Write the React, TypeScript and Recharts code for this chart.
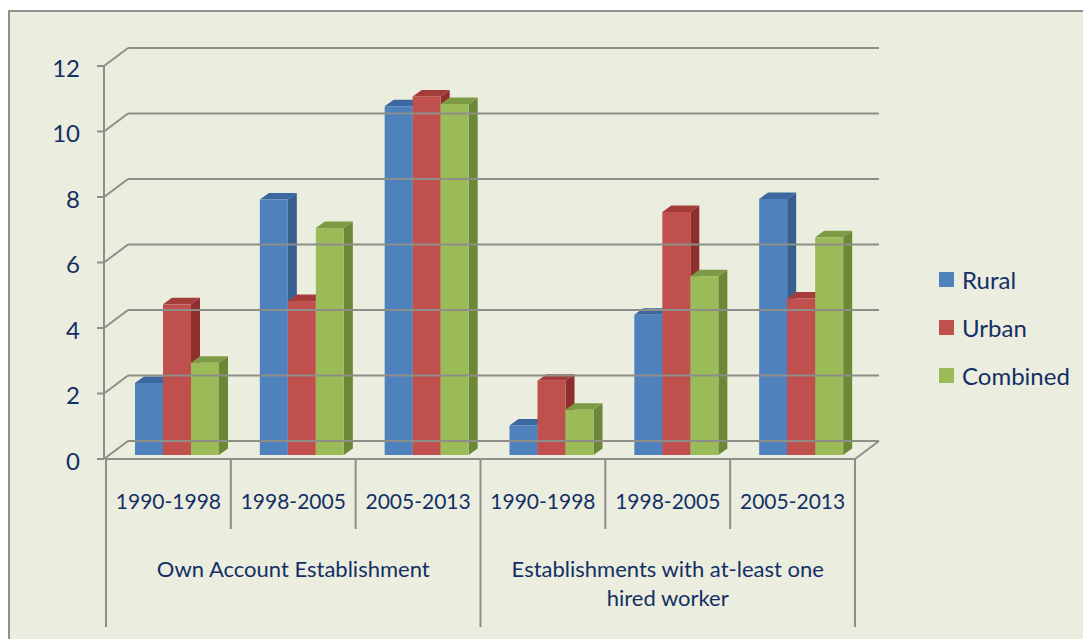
import React from 'react';
import { BarChart, Bar, XAxis, YAxis } from 'recharts';

const categories = ['1990-1998', '1998-2005', '2005-2013', '1990-1998', '1998-2005', '2005-2013'];
const groups = ['Own Account Establishment', 'Establishments with at-least one|hired worker'];
const rural = [2.2, 7.8, 10.65, 0.9, 4.28, 7.82];
const urban = [4.6, 4.7, 10.95, 2.27, 7.42, 4.78];
const combined = [2.82, 6.93, 10.72, 1.38, 5.46, 6.65];
const yTicks = [0, 2, 4, 6, 8, 10, 12];

const series = [
  { key: 'rural', name: 'Rural', front: '#4F81BD', side: '#37608F', top: '#3B68A0' },
  { key: 'urban', name: 'Urban', front: '#C0504D', side: '#8E2F2D', top: '#A43C39' },
  { key: 'combined', name: 'Combined', front: '#9BBB59', side: '#6C8737', top: '#7D9B44' },
];

const data = categories.map((c, i) => ({
  cat: c,
  idx: i,
  rural: rural[i],
  urban: urban[i],
  combined: combined[i],
}));

// layout of the fake 3d box
const W = 1083;
const H = 639;
const PLOT_LEFT = 114;
const PLOT_RIGHT = 863;
const PLOT_BOTTOM = 455;
const BAND = (PLOT_RIGHT - PLOT_LEFT) / categories.length;
const FRONT_DX = -8; // bar plane -> front plane
const FRONT_DY = 4;
const DEPTH_X = 24;
const DEPTH_Y = 18;
const BAR_DX = 9;
const BAR_DY = 6.5;
const LINE = '#8E8E88';
const TEXT = '#132F66';
const FONT = 'Lato, "Open Sans", sans-serif';

const frontAxisX = PLOT_LEFT + FRONT_DX;
const frontBottom = PLOT_BOTTOM + FRONT_DY;

const makeShape = (s: typeof series[number]) => (props: any) => {
  const { x, y, width, height } = props;
  if (height == null || width == null) return null;
  const r = x + width;
  const b = y + height;
  return (
    <g>
      <polygon
        points={`${r},${y} ${r + BAR_DX},${y - BAR_DY} ${r + BAR_DX},${b - BAR_DY} ${r},${b}`}
        fill={s.side}
      />
      <polygon
        points={`${x},${y} ${x + BAR_DX},${y - BAR_DY} ${r + BAR_DX},${y - BAR_DY} ${r},${y}`}
        fill={s.top}
      />
      <rect x={x} y={y} width={width} height={height} fill={s.front} />
    </g>
  );
};

const YTick = (props: any) => {
  const { y, payload } = props;
  const v = payload.value;
  const fy = y + FRONT_DY;
  const by = fy - DEPTH_Y;
  const ax = frontAxisX - 2;
  return (
    <g>
      <line x1={ax - 7} x2={ax} y1={fy} y2={fy} stroke={LINE} strokeWidth={2} />
      <line x1={ax} y1={fy} x2={ax + DEPTH_X} y2={by} stroke={LINE} strokeWidth={2} />
      <line x1={ax + DEPTH_X} x2={PLOT_RIGHT + FRONT_DX + DEPTH_X} y1={by} y2={by} stroke={LINE} strokeWidth={2} />
      {v === 12 && <line x1={ax} x2={ax} y1={fy} y2={frontBottom} stroke={LINE} strokeWidth={2} />}
      <text x={80} y={fy + 1} textAnchor="end" dominantBaseline="central" fill={TEXT} fontSize={24} fontFamily={FONT}>
        {v}
      </text>
    </g>
  );
};

const XTick = (props: any) => {
  const { x, payload, index } = props;
  const cx = x + FRONT_DX;
  const left = cx - BAND / 2;
  const right = cx + BAND / 2;
  const isGroupStart = index % 3 === 0;
  const isLast = index === categories.length - 1;
  const groupLines = isGroupStart ? groups[index / 3].split('|') : [];
  const groupCx = cx + BAND;
  return (
    <g>
      <line x1={left} x2={right} y1={frontBottom} y2={frontBottom} stroke={LINE} strokeWidth={2} />
      <line x1={left} x2={left} y1={frontBottom} y2={isGroupStart ? 627 : 529} stroke={LINE} strokeWidth={2} />
      {isLast && (
        <>
          <line x1={right} x2={right} y1={frontBottom} y2={627} stroke={LINE} strokeWidth={2} />
          <line x1={right} y1={frontBottom} x2={right + DEPTH_X} y2={frontBottom - DEPTH_Y} stroke={LINE} strokeWidth={2} />
        </>
      )}
      <text x={cx} y={500} textAnchor="middle" dominantBaseline="central" fill={TEXT} fontSize={21} fontFamily={FONT}>
        {payload.value}
      </text>
      {groupLines.map((t, i) => (
        <text
          key={i}
          x={groupCx}
          y={568 + i * 29}
          textAnchor="middle"
          dominantBaseline="central"
          fill={TEXT}
          fontSize={22}
          fontFamily={FONT}
        >
          {t}
        </text>
      ))}
    </g>
  );
};

export default function App() {
  return (
    <div style={{ position: 'fixed', left: 0, top: 0, width: W, height: H, background: '#fff', overflow: 'hidden' }}>
      <div
        style={{
          position: 'absolute',
          left: 8,
          top: 10,
          width: W + 20,
          height: H + 20,
          background: '#EBEEDE',
          borderLeft: '2px solid #8F8F8F',
          borderTop: '2px solid #8F8F8F',
        }}
      />
      <div style={{ position: 'absolute', left: 0, top: 0 }}>
        <BarChart
          width={W}
          height={H}
          data={data}
          margin={{ top: 62, left: PLOT_LEFT - 10, right: W - PLOT_RIGHT, bottom: H - PLOT_BOTTOM - 30 }}
          barCategoryGap={21}
          barGap={0}
        >
          <YAxis
            width={10}
            domain={[0, 12]}
            ticks={yTicks}
            interval={0}
            axisLine={false}
            tickLine={false}
            tick={<YTick />}
          />
          <XAxis
            dataKey="cat"
            height={30}
            interval={0}
            axisLine={false}
            tickLine={false}
            tick={<XTick />}
          />
          {series.map((s) => (
            <Bar key={s.key} dataKey={s.key} name={s.name} fill={s.front} shape={makeShape(s)} isAnimationActive={false} />
          ))}
        </BarChart>
      </div>
      <div style={{ position: 'absolute', left: 939, top: 255, fontFamily: FONT, fontSize: 24, color: TEXT }}>
        {series.map((s) => (
          <div key={s.key} style={{ display: 'flex', alignItems: 'center', height: 48 }}>
            <span style={{ width: 15, height: 15, background: s.front, display: 'inline-block', marginRight: 8 }} />
            <span>{s.name}</span>
          </div>
        ))}
      </div>
    </div>
  );
}
